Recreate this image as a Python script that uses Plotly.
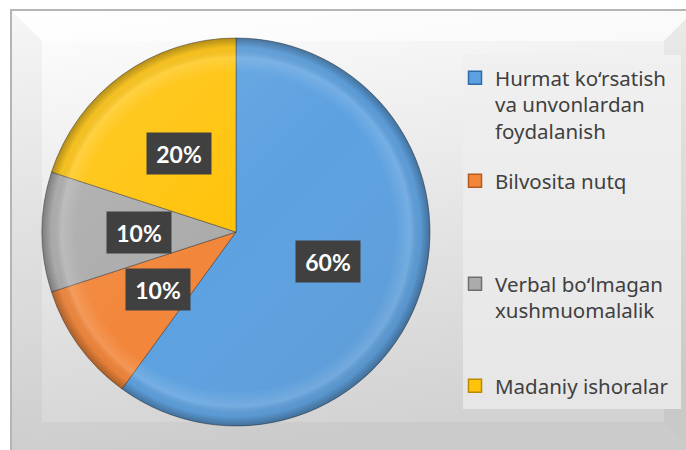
import base64
import math
import plotly.graph_objects as go

# Chart data
categories = [
    "Hurmat ko‘rsatish<br>va unvonlardan<br>foydalanish",
    "Bilvosita nutq",
    "Verbal bo‘lmagan<br>xushmuomalalik",
    "Madaniy ishoralar",
]
values = [60, 10, 10, 20]
colors = ["#5DA1E0", "#F2863A", "#ABABAB", "#FFC30A"]
edge_colors = ["#2E6BA8", "#B35A1C", "#6E6E6E", "#B88A00"]

W, H = 686, 450
# pie placement in pixels
PIE_CX, PIE_CY, PIE_R = 236, 232, 194
LABEL_FONT = "Lato, 'Noto Sans', Arial, sans-serif"
LEGEND_FONT = "'Noto Sans', 'Open Sans', Arial, sans-serif"
TEXT_COLOR = "#404040"


def svg_uri(svg):
    return "data:image/svg+xml;base64," + base64.b64encode(svg.encode("utf-8")).decode("ascii")


# Decorative chart-area background: bevelled frame with a soft gradient
bg_svg = f"""<svg xmlns="http://www.w3.org/2000/svg" width="{W}" height="{H}" viewBox="0 0 {W} {H}" preserveAspectRatio="none">
<defs>
<linearGradient id="bg" x1="0" y1="0" x2="0.25" y2="1">
<stop offset="0" stop-color="#ffffff"/><stop offset="0.3" stop-color="#f1f1f1"/>
<stop offset="1" stop-color="#d2d2d2"/></linearGradient>
<linearGradient id="lg" x1="0" y1="0" x2="0" y2="1">
<stop offset="0" stop-color="#f0f0f0"/><stop offset="1" stop-color="#e6e6e6"/></linearGradient>
</defs>
<rect x="0" y="0" width="{W}" height="{H}" fill="#ffffff"/>
<rect x="11" y="10" width="690" height="450" fill="url(#bg)" stroke="#b5b5b5" stroke-width="2"/>
<polygon points="12,11 694,11 664,41 42,41" fill="#ffffff" fill-opacity="0.55"/>
<polygon points="12,11 42,41 42,422 12,452" fill="#000000" fill-opacity="0.035"/>
<polygon points="694,11 664,41 664,422 694,452" fill="#000000" fill-opacity="0.04"/>
<polygon points="12,452 42,422 664,422 694,452" fill="#000000" fill-opacity="0.03"/>
<rect x="463" y="55" width="218" height="354" fill="url(#lg)"/>
</svg>"""

# Rim shading laid over the pie for a bevelled look
rim_svg = """<svg xmlns="http://www.w3.org/2000/svg" width="100" height="100" viewBox="0 0 100 100" preserveAspectRatio="none">
<defs>
<radialGradient id="rim" cx="50" cy="50" r="50" gradientUnits="userSpaceOnUse">
<stop offset="0" stop-color="#ffffff" stop-opacity="0"/>
<stop offset="0.82" stop-color="#ffffff" stop-opacity="0"/>
<stop offset="0.9" stop-color="#ffffff" stop-opacity="0.14"/>
<stop offset="0.95" stop-color="#000000" stop-opacity="0.04"/>
<stop offset="1" stop-color="#000000" stop-opacity="0.3"/>
</radialGradient>
<linearGradient id="lit" x1="0" y1="0" x2="1" y2="1">
<stop offset="0" stop-color="#ffffff" stop-opacity="0.16"/>
<stop offset="0.5" stop-color="#ffffff" stop-opacity="0"/>
<stop offset="1" stop-color="#000000" stop-opacity="0.1"/>
</linearGradient>
</defs>
<circle cx="50" cy="50" r="50" fill="url(#lit)"/>
<circle cx="50" cy="50" r="50" fill="url(#rim)"/>
</svg>"""

dom_x = [(PIE_CX - PIE_R) / W, (PIE_CX + PIE_R) / W]
dom_y = [1 - (PIE_CY + PIE_R) / H, 1 - (PIE_CY - PIE_R) / H]

fig = go.Figure()
fig.add_trace(go.Pie(
    labels=categories,
    values=values,
    sort=False,
    direction="clockwise",
    rotation=0,
    marker=dict(colors=colors, line=dict(color="rgba(40,40,40,0.45)", width=1)),
    textinfo="none",
    hoverinfo="label+percent",
    showlegend=False,
    domain=dict(x=dom_x, y=dom_y),
))

# Legend entries, one legend per entry so each sits at its own height
legend_tops = [58, 161, 264, 366]
layout_legends = {}
for i, (name, col, edge) in enumerate(zip(categories, colors, edge_colors)):
    key = "legend" if i == 0 else f"legend{i + 1}"
    fig.add_trace(go.Scatter(
        x=[None], y=[None], mode="markers", name=name, legend=key,
        marker=dict(symbol="square", size=13, color=col, line=dict(color=edge, width=1.5)),
        showlegend=True,
    ))
    layout_legends[key] = dict(
        x=455 / W, xanchor="left",
        y=1 - legend_tops[i] / H, yanchor="top",
        valign="top", bgcolor="rgba(0,0,0,0)", borderwidth=0,
        font=dict(family=LEGEND_FONT, size=20.5, color=TEXT_COLOR),
    )

# Percentage labels placed halfway along each slice's bisector
total = sum(values)
annotations = []
cum = 0
for v in values:
    mid = (cum + v / 2) / total * 2 * math.pi
    cum += v
    px = PIE_CX + 0.5 * PIE_R * math.sin(mid)
    py = PIE_CY - 0.5 * PIE_R * math.cos(mid)
    annotations.append(dict(
        x=px / W, y=1 - py / H, xref="paper", yref="paper",
        text=f"<b>{round(v / total * 100)}%</b>", showarrow=False,
        font=dict(family=LABEL_FONT, size=23, color="#ffffff"),
        bgcolor="#404040", width=60, height=37, borderpad=2,
        xanchor="center", yanchor="middle",
    ))

fig.update_layout(
    width=W, height=H,
    margin=dict(l=0, r=0, t=0, b=0),
    paper_bgcolor="#ffffff",
    plot_bgcolor="rgba(0,0,0,0)",
    showlegend=True,
    xaxis=dict(visible=False),
    yaxis=dict(visible=False),
    annotations=annotations,
    images=[
        dict(source=svg_uri(bg_svg), xref="paper", yref="paper", x=0, y=1,
             sizex=1, sizey=1, sizing="stretch", xanchor="left", yanchor="top", layer="below"),
        dict(source=svg_uri(rim_svg), xref="paper", yref="paper",
             x=dom_x[0], y=dom_y[1], sizex=dom_x[1] - dom_x[0], sizey=dom_y[1] - dom_y[0],
             sizing="stretch", xanchor="left", yanchor="top", layer="above"),
    ],
    **layout_legends,
)

fig.write_html("out.html")
